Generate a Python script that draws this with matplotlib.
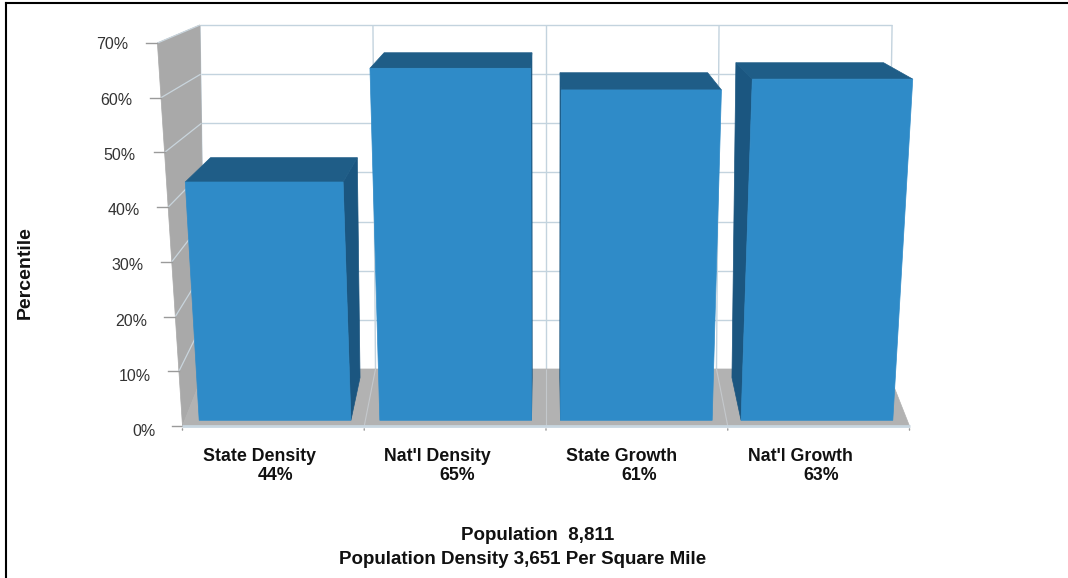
"""
Percentile chart for population density and growth, drawn as a
pseudo-3D column chart (back wall, grey side wall and floor).
"""

import matplotlib

matplotlib.use("Agg")

import matplotlib.pyplot as plt
from matplotlib.lines import Line2D
from matplotlib.patches import Polygon
import numpy as np


CATEGORIES = ["State Density", "Nat'l Density", "State Growth", "Nat'l Growth"]
PERCENTILES = [44, 65, 61, 63]
VALUE_LABELS = ["44%", "65%", "61%", "63%"]
Y_TICKS = [0, 10, 20, 30, 40, 50, 60, 70]
Y_TICK_LABELS = ["0%", "10%", "20%", "30%", "40%", "50%", "60%", "70%"]
FOOTER_LINES = ["Population  8,811", "Population Density 3,651 Per Square Mile"]
Y_LABEL = "Percentile"

Y_MAX = 70

# projection of the 3D box (x: category units, y: percent, z: depth 0..1)
FRONT_LEAN = 0.069
BACK_SCALE_X = 0.938
BACK_LEAN = 0.015
BACK_V0 = 10.42
BACK_V_SCALE = 0.898

BAR_HALF_WIDTH = 0.42
BAR_Z_FRONT = 0.1
BAR_Z_BACK = 0.85
LABEL_Z = -0.1

FRONT_COLOR = "#2f8bc8"
TOP_COLOR = "#1f5d87"
SIDE_COLOR = "#1b5680"
WALL_COLOR = "#a9a9a9"
FLOOR_COLOR = "#b2b2b2"
GRID_COLOR = "#c3d3de"
TICK_COLOR = "#9a9a9a"
TEXT_COLOR = "#111111"


def project(x, y, z):
    front_scale = 1 + FRONT_LEAN * y / Y_MAX
    back_scale = BACK_SCALE_X * (1 + BACK_LEAN * y / Y_MAX)
    scale = front_scale + (back_scale - front_scale) * z
    u = x * scale
    v = y + (BACK_V0 + BACK_V_SCALE * y - y) * z
    return u, v


def add_face(axis, corners, color, zorder):
    points = [project(*corner) for corner in corners]
    axis.add_patch(
        Polygon(points, closed=True, facecolor=color, edgecolor=color,
                linewidth=0.5, zorder=zorder)
    )


def add_line(axis, start, end, color, linewidth, zorder):
    u0, v0 = project(*start)
    u1, v1 = project(*end)
    axis.plot([u0, u1], [v0, v1], color=color, linewidth=linewidth,
              zorder=zorder, solid_capstyle="butt")


def draw_box(axis, x_left, x_right, y_top, y_bottom=0):
    z0, z1 = BAR_Z_FRONT, BAR_Z_BACK
    center = (x_left + x_right) / 2
    side_x = x_right if center < 0 else x_left

    add_face(axis, [(side_x, y_bottom, z0), (side_x, y_bottom, z1),
                    (side_x, y_top, z1), (side_x, y_top, z0)], SIDE_COLOR, 5)
    add_face(axis, [(x_left, y_top, z0), (x_right, y_top, z0),
                    (x_right, y_top, z1), (x_left, y_top, z1)], TOP_COLOR, 6)
    add_face(axis, [(x_left, y_bottom, z0), (x_right, y_bottom, z0),
                    (x_right, y_top, z0), (x_left, y_top, z0)], FRONT_COLOR, 7)


def main():
    plt.rcParams["font.family"] = ["Liberation Sans", "DejaVu Sans"]

    fig = plt.figure(figsize=(10.68, 5.78), dpi=100)
    fig.patch.set_facecolor("white")
    axis = fig.add_axes([0, 0, 1, 1])
    axis.set_xlim(-3.004, 2.872)
    axis.set_ylim(-27.78, 77.86)
    axis.axis("off")

    n = len(CATEGORIES)
    x_edges = np.arange(n + 1) - n / 2
    positions = np.arange(n) - (n - 1) / 2
    x_min, x_max = x_edges[0], x_edges[-1]

    # back wall grid
    for value in Y_TICKS[1:]:
        add_line(axis, (x_min, value, 1), (x_max, value, 1), GRID_COLOR, 1.0, 1)
    for edge in x_edges:
        add_line(axis, (edge, 0, 1), (edge, Y_MAX, 1), GRID_COLOR, 1.0, 1)

    # left wall
    add_face(axis, [(x_min, 0, 0), (x_min, 0, 1), (x_min, Y_MAX, 1),
                    (x_min, Y_MAX, 0)], WALL_COLOR, 2)
    for value in Y_TICKS[1:]:
        add_line(axis, (x_min, value, 0), (x_min, value, 1), "#c9d5dd", 0.9, 3)

    # floor
    add_face(axis, [(x_min, 0, 0), (x_max, 0, 0), (x_max, 0, 1),
                    (x_min, 0, 1)], FLOOR_COLOR, 2)
    for edge in x_edges[1:-1]:
        add_line(axis, (edge, 0, 0), (edge, 0, 1), "#c4c8cc", 0.8, 3)
    add_line(axis, (x_min, 0, 0), (x_max, 0, 0), "#c8d6e0", 2.0, 8)

    # bars
    for position, value in zip(positions, PERCENTILES):
        draw_box(axis, position - BAR_HALF_WIDTH, position + BAR_HALF_WIDTH, value)

    # y ticks on the front left edge, labels slightly in front of it
    for value, label in zip(Y_TICKS, Y_TICK_LABELS):
        u, v = project(x_min, value, 0)
        axis.plot([u - 0.06, u], [v, v], color=TICK_COLOR, linewidth=1.0, zorder=4)
        u_label, v_label = project(x_min, value, LABEL_Z)
        axis.annotate(label, (u_label, v_label), xytext=(-18, 0),
                      textcoords="offset points", ha="right", va="center",
                      fontsize=11.5, color="#333333")

    # x ticks and category labels
    for edge in x_edges:
        u, v = project(edge, 0, 0)
        axis.annotate("", (u, v), xytext=(0, -5), textcoords="offset points",
                      arrowprops=dict(arrowstyle="-", color=TICK_COLOR, lw=1.0))
    for position, name, value_label in zip(positions, CATEGORIES, VALUE_LABELS):
        u, v = project(position, 0, 0)
        axis.annotate(name, (u, v), xytext=(-51, -22), textcoords="offset points",
                      ha="left", va="center", fontsize=12.8, fontweight="bold",
                      color=TEXT_COLOR)
        axis.annotate(value_label, (u, v), xytext=(-11, -35.5),
                      textcoords="offset points", ha="left", va="center",
                      fontsize=12.8, fontweight="bold", color=TEXT_COLOR)

    fig.text(25 / 1068, 1 - 273 / 578, Y_LABEL, rotation=90, ha="center",
             va="center", fontsize=14, fontweight="bold", color=TEXT_COLOR)
    fig.text(538 / 1068, 1 - 536 / 578, FOOTER_LINES[0], ha="center",
             va="center", fontsize=13.5, fontweight="bold", color=TEXT_COLOR)
    fig.text(523 / 1068, 1 - 559 / 578, FOOTER_LINES[1], ha="center",
             va="center", fontsize=13.5, fontweight="bold", color=TEXT_COLOR)

    # outer frame (left and top edges visible in the crop)
    fig.add_artist(Line2D([6 / 1068, 6 / 1068], [0, 1 - 3 / 578],
                          transform=fig.transFigure, color="black", linewidth=1.5))
    fig.add_artist(Line2D([6 / 1068, 1], [1 - 3 / 578, 1 - 3 / 578],
                          transform=fig.transFigure, color="black", linewidth=1.5))

    fig.savefig("out.png", dpi=100)
    plt.close(fig)


if __name__ == "__main__":
    main()
